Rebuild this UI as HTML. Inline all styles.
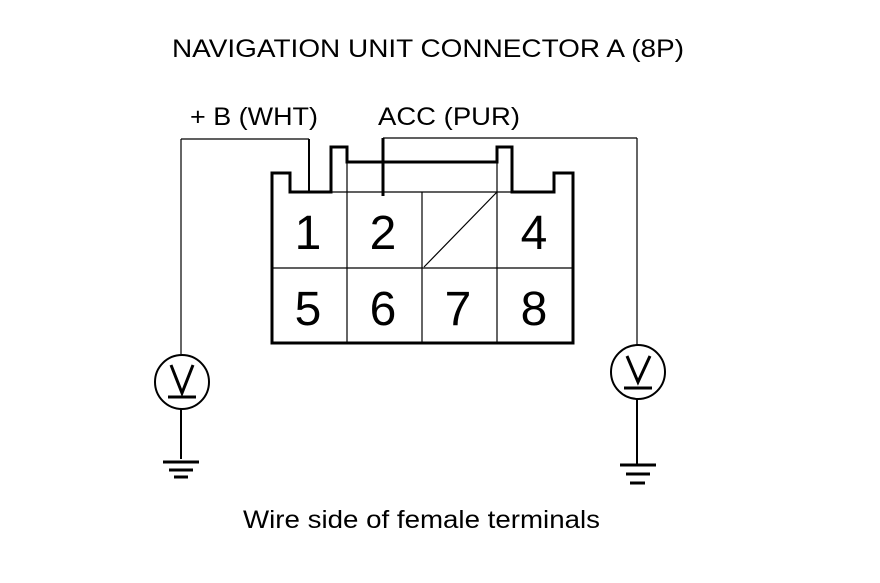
<!DOCTYPE html>
<html><head><style>html,body{margin:0;padding:0;background:#fff}</style></head><body>
<svg width="880" height="578" xmlns="http://www.w3.org/2000/svg" font-family="Liberation Sans, sans-serif">
<rect width="880" height="578" fill="#fff"/>
<text x="172" y="57" font-size="25" textLength="512" lengthAdjust="spacingAndGlyphs">NAVIGATION UNIT CONNECTOR A (8P)</text>
<text x="190" y="125" font-size="25" textLength="128" lengthAdjust="spacingAndGlyphs">+ B (WHT)</text>
<text x="378" y="125" font-size="25" textLength="142" lengthAdjust="spacingAndGlyphs">ACC (PUR)</text>
<text x="243" y="528" font-size="25" textLength="357" lengthAdjust="spacingAndGlyphs">Wire side of female terminals</text>
<g fill="none" stroke="#000">
<path d="M272,343 L272,173 L290,173 L290,192 L331,192 L331,147 L347,147 L347,162 L497,162 L497,147 L512,147 L512,192 L554,192 L554,173 L573,173 L573,343 Z" stroke-width="3"/>
<g stroke-width="1.2">
<line x1="290" y1="192" x2="554" y2="192"/>
<line x1="272" y1="268" x2="573" y2="268"/>
<line x1="347" y1="162" x2="347" y2="343"/>
<line x1="422" y1="192" x2="422" y2="343"/>
<line x1="497" y1="162" x2="497" y2="343"/>
<line x1="424" y1="267" x2="497" y2="192"/>
<line x1="181" y1="139" x2="309" y2="139"/>
<line x1="181" y1="139" x2="181" y2="354"/>
<line x1="383" y1="138" x2="637" y2="138"/>
<line x1="637" y1="138" x2="637" y2="345"/>
</g>
<line x1="309" y1="139" x2="309" y2="192" stroke-width="2"/>
<line x1="383" y1="138" x2="383" y2="196" stroke-width="3"/>
<circle cx="182" cy="382" r="27" stroke-width="2"/>
<path d="M171,365 L182,393 L193,365" stroke-width="3"/>
<line x1="168" y1="397" x2="196" y2="397" stroke-width="3"/>
<line x1="181" y1="409" x2="181" y2="459" stroke-width="2"/>
<line x1="163" y1="462" x2="199" y2="462" stroke-width="3"/>
<line x1="169" y1="470" x2="193" y2="470" stroke-width="3"/>
<line x1="174" y1="477" x2="188" y2="477" stroke-width="3"/>
<circle cx="638" cy="372" r="27" stroke-width="2"/>
<path d="M627,356 L638,382 L650,356" stroke-width="3"/>
<line x1="624" y1="388" x2="652" y2="388" stroke-width="3"/>
<line x1="637" y1="399" x2="637" y2="464" stroke-width="2"/>
<line x1="620" y1="465" x2="656" y2="465" stroke-width="3"/>
<line x1="626" y1="474" x2="650" y2="474" stroke-width="3"/>
<line x1="630" y1="483" x2="645" y2="483" stroke-width="3"/>
</g>
<g font-size="48" text-anchor="middle">
<text x="308" y="249">1</text>
<text x="383" y="249">2</text>
<text x="534" y="249">4</text>
<text x="308" y="325">5</text>
<text x="383" y="325">6</text>
<text x="458" y="325">7</text>
<text x="534" y="325">8</text>
</g>
</svg>
</body></html>
